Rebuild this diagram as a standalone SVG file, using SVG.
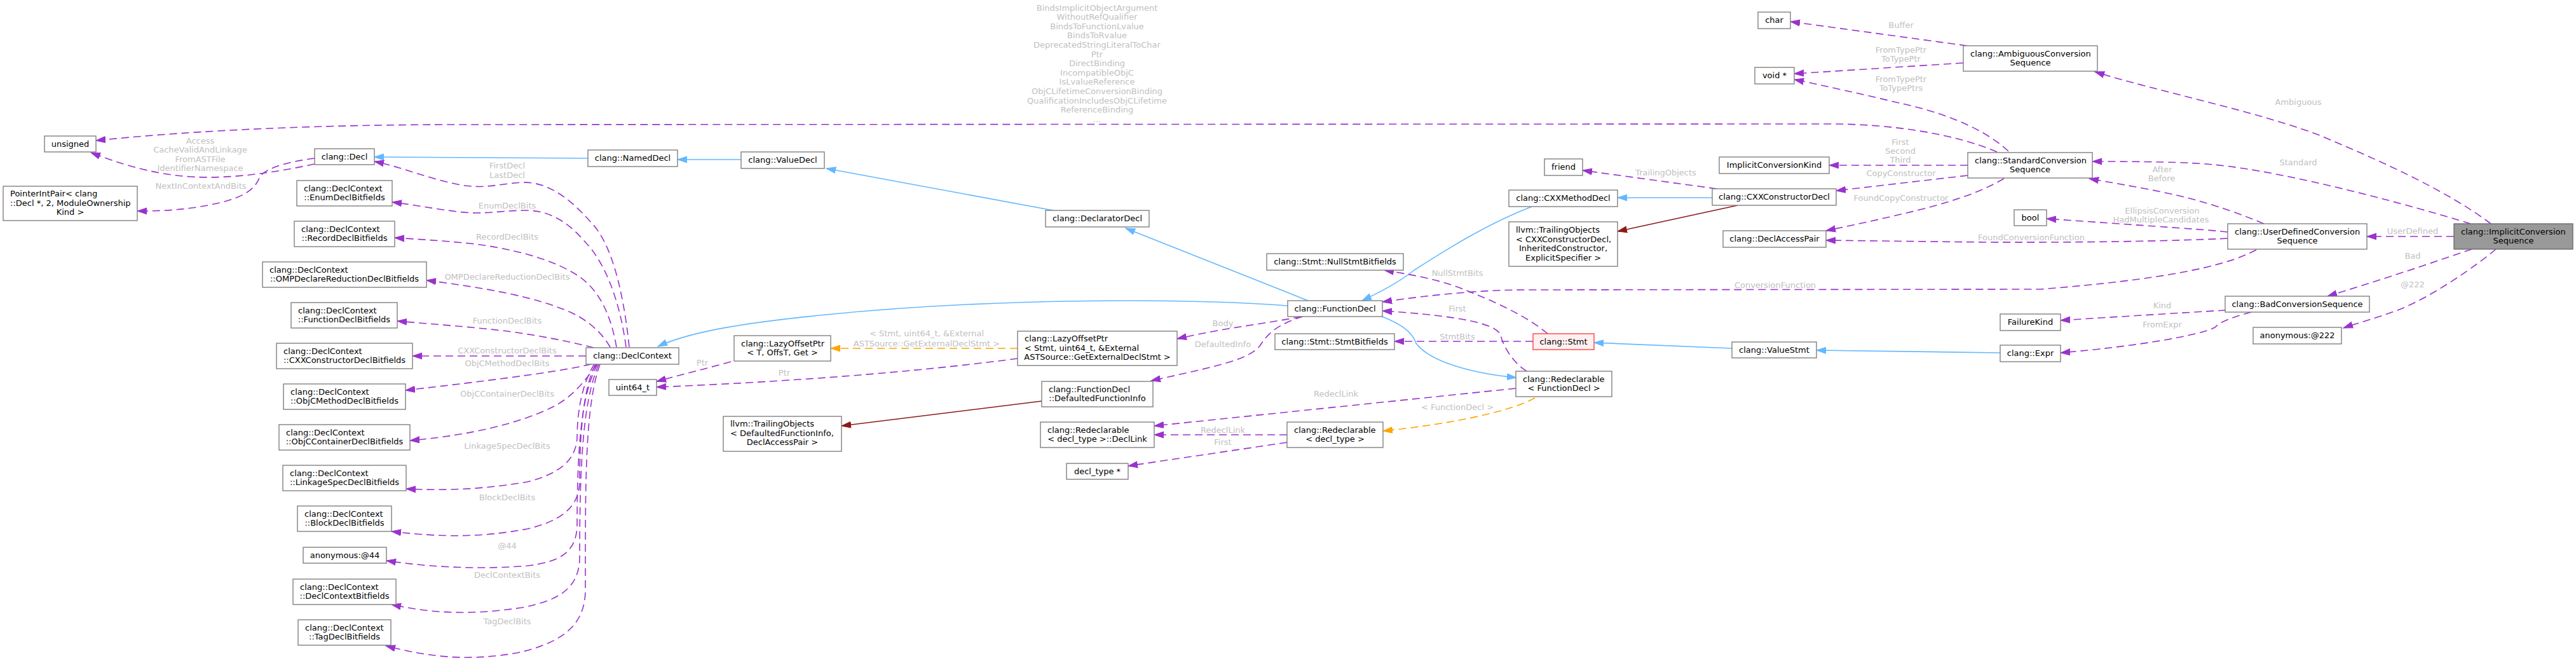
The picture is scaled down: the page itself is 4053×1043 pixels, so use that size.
<svg xmlns="http://www.w3.org/2000/svg" width="4053" height="1043" viewBox="0 0 4053 1043">
<style>
.n rect{fill:#fff;stroke:#777;stroke-width:1.3}
.n text{font-family:"DejaVu Sans",sans-serif;font-size:13px;fill:#000}
.m{text-anchor:middle}
.e path{fill:none;stroke-width:1.6}
.p{stroke:#9a32cd;stroke-dasharray:12,7;marker-end:url(#ap)}
.b{stroke:#63b8ff;marker-end:url(#ab)}
.o{stroke:#ffa500;stroke-dasharray:12,7;marker-end:url(#ao)}
.r{stroke:#8b1a1a;marker-end:url(#ar)}
.l text{font-family:"DejaVu Sans",sans-serif;font-size:13px;fill:#c0c0c0;text-anchor:middle}
</style>
<defs>
<marker id="ap" markerUnits="userSpaceOnUse" markerWidth="16" markerHeight="12" viewBox="0 0 16 12" refX="15" refY="6" orient="auto"><path d="M0,1 L15,6 L0,11 z" fill="#9a32cd" stroke="#9a32cd"/></marker>
<marker id="ab" markerUnits="userSpaceOnUse" markerWidth="16" markerHeight="12" viewBox="0 0 16 12" refX="15" refY="6" orient="auto"><path d="M0,1 L15,6 L0,11 z" fill="#63b8ff" stroke="#63b8ff"/></marker>
<marker id="ao" markerUnits="userSpaceOnUse" markerWidth="16" markerHeight="12" viewBox="0 0 16 12" refX="15" refY="6" orient="auto"><path d="M0,1 L15,6 L0,11 z" fill="#ffa500" stroke="#ffa500"/></marker>
<marker id="ar" markerUnits="userSpaceOnUse" markerWidth="16" markerHeight="12" viewBox="0 0 16 12" refX="15" refY="6" orient="auto"><path d="M0,1 L15,6 L0,11 z" fill="#8b1a1a" stroke="#8b1a1a"/></marker>
</defs>
<rect width="4053" height="1043" fill="#fff"/>
<g id="connectors" class="e">
<path class="b" d="M925,249 L589,247"/>
<path class="b" d="M1166,251 L1066,251"/>
<path class="b" d="M1657,331 L1300,265"/>
<path class="b" d="M2058,473 L1771,359"/>
<path class="b" d="M2026,481 C1850,468 1550,470 1300,495 C1180,507 1090,520 1035,545"/>
<path class="b" d="M2410,325 C2340,352 2280,390 2225,425 C2200,445 2170,460 2143,473"/>
<path class="b" d="M2694,311 L2545,311"/>
<path class="r" d="M2734,323 L2545,364"/>
<path class="p" d="M2701,297 L2490,268"/>
<path class="b" d="M2172,497 C2205,510 2222,522 2228,540 C2250,570 2320,588 2386,594"/>
<path class="b" d="M2725,548 L2508,539"/>
<path class="b" d="M3147,555 L2858,551"/>
<path class="r" d="M1639,631 L1324,670"/>
<path class="o" d="M1601,548 L1307,548"/>
<path class="p" d="M1601,564 C1480,580 1300,598 1033,609"/>
<path class="p" d="M1150,569 C1110,580 1070,590 1033,600"/>
<path class="p" d="M2047,498 C2000,508 1930,515 1852,533"/>
<path class="p" d="M2050,498 C2010,510 1995,525 1985,540 C1970,565 1920,575 1811,599"/>
<path class="p" d="M2385,611 L1816,670"/>
<path class="p" d="M2025,684 L1816,684"/>
<path class="p" d="M2025,696 L1775,733"/>
<path class="o" d="M2415,626 C2380,645 2300,665 2176,678"/>
<path class="p" d="M2402,584 C2380,570 2365,545 2361,527 C2355,510 2300,497 2175,489"/>
<path class="p" d="M2435,525 C2400,495 2340,470 2317,461 C2270,440 2220,432 2178,425"/>
<path class="p" d="M3550,393 C3500,420 3400,440 3211,455 L2400,456 C2330,456 2250,464 2175,475"/>
<path class="p" d="M2412,537 L2194,537"/>
<path class="p" d="M3095,72 L2817,34"/>
<path class="p" d="M3089,99 L2823,116"/>
<path class="p" d="M3160,238 C3120,200 3050,175 2988,162 C2930,148 2870,135 2823,125"/>
<path class="p" d="M3142,239 C3080,212 2980,195 2880,195 L700,196 C450,197 280,208 151,221"/>
<path class="p" d="M3096,260 L2878,260"/>
<path class="p" d="M3096,276 L2889,300"/>
<path class="p" d="M3153,281 C3120,300 3080,315 3020,330 C2960,345 2910,355 2873,363"/>
<path class="p" d="M3562,352 C3510,330 3460,315 3420,306 C3370,295 3320,287 3287,281"/>
<path class="p" d="M3887,352 C3800,325 3600,270 3483,259 C3440,255 3380,254 3292,254"/>
<path class="p" d="M3919,352 C3850,300 3750,255 3650,213 C3550,175 3400,145 3296,113"/>
<path class="p" d="M3505,365 C3480,362 3420,358 3220,344"/>
<path class="p" d="M3505,375 C3450,378 3300,382 3122,381 L2873,378"/>
<path class="p" d="M3861,372 L3724,372"/>
<path class="p" d="M3889,392 C3850,405 3780,430 3662,466"/>
<path class="p" d="M3927,392 C3900,415 3830,465 3775,487 C3740,500 3710,508 3687,516"/>
<path class="p" d="M3502,488 C3470,490 3400,494 3242,504"/>
<path class="p" d="M3542,491 C3510,500 3495,505 3485,515 C3460,528 3360,545 3242,555"/>
<path class="p" d="M495,258 C430,272 360,282 300,278 C240,274 190,258 143,240"/>
<path class="p" d="M495,249 C450,255 415,265 408,280 C400,300 380,310 350,318 C300,330 260,332 216,332"/>
<path class="p" d="M990,546 C980,450 960,380 930,350 C895,310 860,285 820,287 C780,290 760,298 720,290 C670,280 630,262 589,254"/>
<path class="p" d="M985,546 C975,470 950,410 920,380 C890,345 860,330 823,331 C780,332 760,338 720,333 C680,328 650,322 617,318"/>
<path class="p" d="M970,546 C960,490 940,450 900,428 C860,405 800,390 740,383 C690,378 650,376 621,374"/>
<path class="p" d="M960,546 C945,520 920,500 890,488 C840,468 780,455 671,441"/>
<path class="p" d="M934,547 C900,538 850,528 798,521 C740,514 680,510 625,505"/>
<path class="p" d="M922,560 L649,560"/>
<path class="p" d="M930,573 C880,585 760,600 638,614"/>
<path class="p" d="M939,573 C920,600 900,625 870,640 C820,665 740,685 645,693"/>
<path class="p" d="M935,573 C915,605 908,650 908,690 C905,725 880,745 830,758 C760,770 700,772 639,769"/>
<path class="p" d="M937,573 C918,610 912,680 912,760 C910,800 880,820 830,832 C760,845 700,846 616,836"/>
<path class="p" d="M940,573 C915,620 908,700 908,830 C905,870 880,884 830,890 C760,896 680,893 608,882"/>
<path class="p" d="M942,573 C918,630 912,720 912,880 C910,925 880,945 820,956 C740,968 680,965 616,951"/>
<path class="p" d="M944,573 C920,640 921,760 921,930 C920,980 890,1010 814,1027 C740,1040 680,1035 607,1016"/>
</g>
<g id="edge-labels" class="l">
<text x="315" y="225.5">Access</text><text x="315" y="240">CacheValidAndLinkage</text><text x="315" y="254.5">FromASTFile</text><text x="315" y="269">IdentifierNamespace</text>
<text x="316" y="296.5">NextInContextAndBits</text>
<text x="798" y="264.5">FirstDecl</text><text x="798" y="279.5">LastDecl</text>
<text x="798" y="327.5">EnumDeclBits</text>
<text x="798" y="376.5">RecordDeclBits</text>
<text x="798" y="439.5">OMPDeclareReductionDeclBits</text>
<text x="798" y="508.5">FunctionDeclBits</text>
<text x="798" y="556">CXXConstructorDeclBits</text>
<text x="798" y="576">ObjCMethodDeclBits</text>
<text x="798" y="623.5">ObjCContainerDeclBits</text>
<text x="798" y="705.5">LinkageSpecDeclBits</text>
<text x="798" y="786.5">BlockDeclBits</text>
<text x="798" y="862.5">@44</text>
<text x="798" y="908.5">DeclContextBits</text>
<text x="798" y="981.5">TagDeclBits</text>
<text x="1105" y="574.5">Ptr</text>
<text x="1234" y="590.5">Ptr</text>
<text x="1458" y="528.5">&lt; Stmt, uint64_t, &amp;External</text><text x="1458" y="544.5">ASTSource::GetExternalDeclStmt &gt;</text>
<text x="1726" y="16.5">BindsImplicitObjectArgument</text>
<text x="1726" y="31.1">WithoutRefQualifier</text>
<text x="1726" y="45.7">BindsToFunctionLvalue</text>
<text x="1726" y="60.3">BindsToRvalue</text>
<text x="1726" y="74.9">DeprecatedStringLiteralToChar</text>
<text x="1726" y="89.5">Ptr</text>
<text x="1726" y="104.1">DirectBinding</text>
<text x="1726" y="118.7">IncompatibleObjC</text>
<text x="1726" y="133.3">IsLvalueReference</text>
<text x="1726" y="147.9">ObjCLifetimeConversionBinding</text>
<text x="1726" y="162.5">QualificationIncludesObjCLifetime</text>
<text x="1726" y="177.1">ReferenceBinding</text>
<text x="1726" y="191.7">...</text>
<text x="1924" y="512.5">Body</text>
<text x="1924" y="545.5">DefaultedInfo</text>
<text x="1924" y="680.5">RedeclLink</text>
<text x="1924" y="700">First</text>
<text x="2293" y="433.5">NullStmtBits</text>
<text x="2293" y="489.5">First</text>
<text x="2293" y="533.5">StmtBits</text>
<text x="2102" y="623.5">RedeclLink</text>
<text x="2293" y="644.5">&lt; FunctionDecl &gt;</text>
<text x="2621" y="275.5">TrailingObjects</text>
<text x="2793" y="452.5">ConversionFunction</text>
<text x="2991" y="43.5">Buffer</text>
<text x="2991" y="83.3">FromTypePtr</text><text x="2991" y="96.8">ToTypePtr</text>
<text x="2991" y="128.5">FromTypePtr</text><text x="2991" y="143">ToTypePtrs</text>
<text x="2990" y="227.5">First</text><text x="2990" y="241.5">Second</text><text x="2990" y="256">Third</text>
<text x="2991" y="276.5">CopyConstructor</text>
<text x="2991" y="315.5">FoundCopyConstructor</text>
<text x="3402" y="270.5">After</text><text x="3401" y="285">Before</text>
<text x="3402" y="335.5">EllipsisConversion</text><text x="3400" y="349.5">HadMultipleCandidates</text>
<text x="3196" y="377.5">FoundConversionFunction</text>
<text x="3402" y="484.5">Kind</text>
<text x="3402" y="514.5">FromExpr</text>
<text x="3616" y="164.5">Ambiguous</text>
<text x="3616" y="259.5">Standard</text>
<text x="3796" y="367.5">UserDefined</text>
<text x="3796" y="406.5">Bad</text>
<text x="3796" y="451.5">@222</text>
</g>
<g id="unsigned" class="n"><rect x="70" y="214" width="81" height="25"/><text class="m" x="110.5" y="231">unsigned</text></g>
<g id="Decl" class="n"><rect x="495" y="234" width="94" height="25"/><text class="m" x="542" y="251">clang::Decl</text></g>
<g id="PointerIntPair" class="n"><rect x="5" y="293" width="211" height="54"/><text x="16" y="309">PointerIntPair&lt; clang</text><text x="16" y="323.5">::Decl *, 2, ModuleOwnership</text><text class="m" x="110.5" y="338">Kind &gt;</text></g>
<g id="EnumDeclBitfields" class="n"><rect x="467" y="284" width="150" height="40"/><text x="478" y="300.5">clang::DeclContext</text><text class="m" x="542" y="315">::EnumDeclBitfields</text></g>
<g id="RecordDeclBitfields" class="n"><rect x="463" y="348" width="158" height="40"/><text x="474" y="364.5">clang::DeclContext</text><text class="m" x="542" y="379">::RecordDeclBitfields</text></g>
<g id="OMPDeclareReductionDeclBitfields" class="n"><rect x="413" y="412" width="258" height="40"/><text x="424" y="428.5">clang::DeclContext</text><text class="m" x="542" y="443">::OMPDeclareReductionDeclBitfields</text></g>
<g id="FunctionDeclBitfields" class="n"><rect x="458" y="476" width="167" height="40"/><text x="469" y="492.5">clang::DeclContext</text><text class="m" x="541.5" y="507">::FunctionDeclBitfields</text></g>
<g id="CXXConstructorDeclBitfields" class="n"><rect x="435" y="540" width="214" height="40"/><text x="446" y="556.5">clang::DeclContext</text><text class="m" x="542" y="571">::CXXConstructorDeclBitfields</text></g>
<g id="ObjCMethodDeclBitfields" class="n"><rect x="446" y="604" width="192" height="40"/><text x="457" y="620.5">clang::DeclContext</text><text class="m" x="542" y="635">::ObjCMethodDeclBitfields</text></g>
<g id="ObjCContainerDeclBitfields" class="n"><rect x="439" y="668" width="206" height="40"/><text x="450" y="684.5">clang::DeclContext</text><text class="m" x="542" y="699">::ObjCContainerDeclBitfields</text></g>
<g id="LinkageSpecDeclBitfields" class="n"><rect x="445" y="732" width="194" height="40"/><text x="456" y="748.5">clang::DeclContext</text><text class="m" x="542" y="763">::LinkageSpecDeclBitfields</text></g>
<g id="BlockDeclBitfields" class="n"><rect x="468" y="796" width="148" height="40"/><text x="479" y="812.5">clang::DeclContext</text><text class="m" x="542" y="827">::BlockDeclBitfields</text></g>
<g id="anonymous44" class="n"><rect x="477" y="861" width="131" height="25"/><text class="m" x="542.5" y="878">anonymous:@44</text></g>
<g id="DeclContextBitfields" class="n"><rect x="461" y="911" width="162" height="40"/><text x="472" y="927.5">clang::DeclContext</text><text class="m" x="542" y="942">::DeclContextBitfields</text></g>
<g id="TagDeclBitfields" class="n"><rect x="469" y="975" width="146" height="40"/><text x="480" y="991.5">clang::DeclContext</text><text class="m" x="542" y="1006">::TagDeclBitfields</text></g>
<g id="NamedDecl" class="n"><rect x="925" y="236" width="141" height="26"/><text class="m" x="995.5" y="253">clang::NamedDecl</text></g>
<g id="ValueDecl" class="n"><rect x="1166" y="239" width="131" height="26"/><text class="m" x="1231.5" y="256">clang::ValueDecl</text></g>
<g id="DeclContext" class="n"><rect x="922" y="547" width="146" height="26"/><text class="m" x="995" y="564">clang::DeclContext</text></g>
<g id="LazyOffsetPtrT" class="n"><rect x="1155" y="528" width="152" height="40"/><text x="1166" y="544.5">clang::LazyOffsetPtr</text><text class="m" x="1231" y="559">&lt; T, OffsT, Get &gt;</text></g>
<g id="uint64_t" class="n"><rect x="958" y="597" width="75" height="25"/><text class="m" x="995.5" y="614">uint64_t</text></g>
<g id="TrailingObjectsDFI" class="n"><rect x="1138" y="655" width="186" height="55"/><text x="1149" y="671">llvm::TrailingObjects</text><text x="1149" y="685.5">&lt; DefaultedFunctionInfo,</text><text class="m" x="1231" y="700">DeclAccessPair &gt;</text></g>
<g id="DeclaratorDecl" class="n"><rect x="1645" y="331" width="163" height="26"/><text class="m" x="1726.5" y="348">clang::DeclaratorDecl</text></g>
<g id="LazyOffsetPtrStmt" class="n"><rect x="1601" y="521" width="251" height="54"/><text x="1612" y="537">clang::LazyOffsetPtr</text><text x="1612" y="551.5">&lt; Stmt, uint64_t, &amp;External</text><text class="m" x="1726.5" y="566">ASTSource::GetExternalDeclStmt &gt;</text></g>
<g id="DefaultedFunctionInfo" class="n"><rect x="1639" y="600" width="175" height="40"/><text x="1650" y="616.5">clang::FunctionDecl</text><text class="m" x="1726.5" y="631">::DefaultedFunctionInfo</text></g>
<g id="DeclLink" class="n"><rect x="1637" y="664" width="179" height="40"/><text x="1648" y="680.5">clang::Redeclarable</text><text class="m" x="1726.5" y="695">&lt; decl_type &gt;::DeclLink</text></g>
<g id="decl_type_ptr" class="n"><rect x="1678" y="729" width="97" height="25"/><text class="m" x="1726.5" y="746">decl_type *</text></g>
<g id="NullStmtBitfields" class="n"><rect x="1993" y="399" width="215" height="26"/><text class="m" x="2100.5" y="416">clang::Stmt::NullStmtBitfields</text></g>
<g id="FunctionDecl" class="n"><rect x="2026" y="473" width="149" height="25"/><text class="m" x="2100.5" y="490">clang::FunctionDecl</text></g>
<g id="StmtBitfields" class="n"><rect x="2006" y="525" width="188" height="25"/><text class="m" x="2100" y="542">clang::Stmt::StmtBitfields</text></g>
<g id="RedeclarableDeclType" class="n"><rect x="2025" y="664" width="151" height="40"/><text x="2036" y="680.5">clang::Redeclarable</text><text class="m" x="2100.5" y="695">&lt; decl_type &gt;</text></g>
<g id="friend" class="n"><rect x="2430" y="250" width="60" height="26"/><text class="m" x="2460" y="267">friend</text></g>
<g id="CXXMethodDecl" class="n"><rect x="2374" y="299" width="171" height="26"/><text class="m" x="2459.5" y="316">clang::CXXMethodDecl</text></g>
<g id="TrailingObjectsCXXCtor" class="n"><rect x="2374" y="349" width="171" height="70"/><text x="2385" y="366">llvm::TrailingObjects</text><text x="2385" y="380.5">&lt; CXXConstructorDecl,</text><text x="2390" y="395">InheritedConstructor,</text><text class="m" x="2459.5" y="409.5">ExplicitSpecifier &gt;</text></g>
<g id="Stmt" class="n"><rect x="2412" y="525" width="96" height="25" style="fill:#fff0f0;stroke:#ff3333"/><text class="m" x="2460" y="542">clang::Stmt</text></g>
<g id="RedeclarableFunctionDecl" class="n"><rect x="2385" y="584" width="151" height="40"/><text x="2396" y="600.5">clang::Redeclarable</text><text class="m" x="2460.5" y="615">&lt; FunctionDecl &gt;</text></g>
<g id="ImplicitConversionKind" class="n"><rect x="2705" y="247" width="173" height="26"/><text class="m" x="2791.5" y="264">ImplicitConversionKind</text></g>
<g id="CXXConstructorDecl" class="n"><rect x="2694" y="297" width="195" height="26"/><text class="m" x="2791.5" y="314">clang::CXXConstructorDecl</text></g>
<g id="DeclAccessPair" class="n"><rect x="2711" y="363" width="162" height="26"/><text class="m" x="2792" y="380">clang::DeclAccessPair</text></g>
<g id="ValueStmt" class="n"><rect x="2725" y="538" width="133" height="25"/><text class="m" x="2791.5" y="555">clang::ValueStmt</text></g>
<g id="char" class="n"><rect x="2766" y="19" width="51" height="26"/><text class="m" x="2791.5" y="36">char</text></g>
<g id="void_ptr" class="n"><rect x="2761" y="106" width="62" height="26"/><text class="m" x="2792" y="123">void *</text></g>
<g id="AmbiguousConversionSequence" class="n"><rect x="3089" y="72" width="211" height="40"/><text x="3100" y="88.5">clang::AmbiguousConversion</text><text class="m" x="3194.5" y="103">Sequence</text></g>
<g id="StandardConversionSequence" class="n"><rect x="3096" y="240" width="196" height="40"/><text x="3107" y="256.5">clang::StandardConversion</text><text class="m" x="3194" y="271">Sequence</text></g>
<g id="bool" class="n"><rect x="3169" y="330" width="51" height="25"/><text class="m" x="3194.5" y="347">bool</text></g>
<g id="FailureKind" class="n"><rect x="3147" y="494" width="95" height="26"/><text class="m" x="3194.5" y="511">FailureKind</text></g>
<g id="Expr" class="n"><rect x="3147" y="543" width="95" height="26"/><text class="m" x="3194.5" y="560">clang::Expr</text></g>
<g id="UserDefinedConversionSequence" class="n"><rect x="3505" y="352" width="219" height="40"/><text x="3516" y="368.5">clang::UserDefinedConversion</text><text class="m" x="3614.5" y="383">Sequence</text></g>
<g id="ImplicitConversionSequence" class="n"><rect x="3861" y="352" width="187" height="40" style="fill:#999;stroke:#666"/><text x="3872" y="368.5">clang::ImplicitConversion</text><text class="m" x="3954.5" y="383">Sequence</text></g>
<g id="BadConversionSequence" class="n"><rect x="3501" y="466" width="227" height="25"/><text class="m" x="3614.5" y="483">clang::BadConversionSequence</text></g>
<g id="anonymous222" class="n"><rect x="3545" y="515" width="139" height="26"/><text class="m" x="3614.5" y="532">anonymous:@222</text></g>
</svg>
